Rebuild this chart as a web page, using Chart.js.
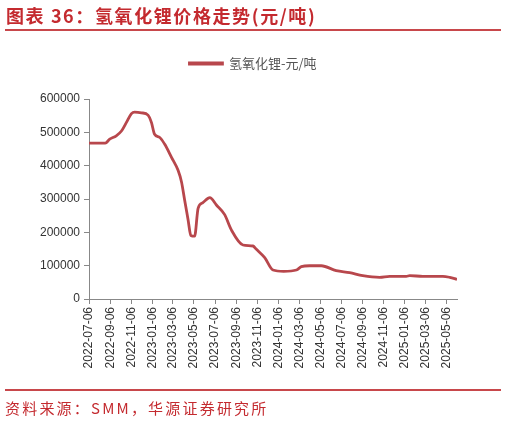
<!DOCTYPE html>
<html><head><meta charset="utf-8">
<script src="https://cdn.jsdelivr.net/npm/chart.js@4/dist/chart.umd.min.js"></script>
<style>
html,body{margin:0;padding:0;background:#fff;width:506px;height:423px;overflow:hidden;}
#title{position:absolute;left:6px;top:2px;font-family:"Noto Sans CJK SC";font-weight:bold;font-size:18px;color:#c42a2f;letter-spacing:1.6px;white-space:nowrap;}
#line1{position:absolute;left:5px;top:29px;width:496px;height:2px;background:#c8474b;}
#line2{position:absolute;left:5px;top:389px;width:496px;height:2px;background:#c8474b;}
#src{position:absolute;left:5px;top:397px;font-family:"Noto Sans CJK SC";font-size:15px;color:#c42a2f;letter-spacing:2.2px;white-space:nowrap;}
#wrap{position:absolute;left:0;top:0;width:506px;height:423px;}
</style></head>
<body>
<div id="wrap"><canvas id="c" width="506" height="423"></canvas></div>
<div id="title">图表 36：氢氧化锂价格走势(元/吨)</div>
<div id="line1"></div>
<div id="line2"></div>
<div id="src">资料来源：SMM，华源证券研究所</div>
<script>
const seriesName = "氢氧化锂-元/吨";
const dates = ["2022-07-06","2022-08-22","2022-09-04","2022-09-23","2022-10-08","2022-10-22","2022-11-06","2022-11-15","2022-12-05","2022-12-24","2023-01-03","2023-01-12","2023-01-27","2023-02-10","2023-03-02","2023-03-21","2023-03-31","2023-04-09","2023-04-19","2023-04-27","2023-05-08","2023-05-18","2023-06-01","2023-06-21","2023-07-10","2023-08-03","2023-08-22","2023-09-25","2023-10-24","2023-11-03","2023-11-27","2023-12-21","2024-01-21","2024-02-27","2024-03-12","2024-04-05","2024-05-09","2024-06-21","2024-07-30","2024-09-06","2024-10-25","2024-11-23","2025-01-10","2025-01-20","2025-02-27","2025-04-26","2025-05-16","2025-06-06"];
const prices = [467500,467500,479500,489600,504000,529000,556000,560600,558600,551700,529000,494000,484500,464700,425000,386000,351000,297000,238000,190600,188500,272000,289000,304000,282000,253000,208000,162000,159000,149000,124000,87000,83000,87000,97000,99700,99700,85000,79000,70000,65000,68000,68000,70000,68000,68000,65000,59000];
const tickLabels = ["2022-07-06","2022-09-06","2022-11-06","2023-01-06","2023-03-06","2023-05-06","2023-07-06","2023-09-06","2023-11-06","2024-01-06","2024-03-06","2024-05-06","2024-07-06","2024-09-06","2024-11-06","2025-01-06","2025-03-06","2025-05-06"];
const yTicks = [0,100000,200000,300000,400000,500000,600000];

const dayOf = s => { const [y,m,d] = s.split("-").map(Number); return (Date.UTC(y,m-1,d) - Date.UTC(2022,6,6)) / 86400000; };
const pts = dates.map((d,i) => ({x: dayOf(d), y: prices[i]}));
const tickDays = tickLabels.map(dayOf);

const legendSpacer = { id: "legendSpacer",
  beforeInit(chart) {
    const orig = chart.legend.fit;
    chart.legend.fit = function () { orig.bind(this)(); this.height += 19; };
  },
  afterLayout(chart) {
    const lg = chart.legend;
    lg.left = 0; lg.right = chart.width; lg.width = chart.width;
    if (lg.adjustHitBoxes) lg.adjustHitBoxes();
  }
};

new Chart(document.getElementById("c"), {
  type: "line",
  data: { datasets: [{ label: seriesName, data: pts, borderColor: "#b8474c", backgroundColor: "#b8474c",
    borderWidth: 2.8, pointRadius: 0, cubicInterpolationMode: "monotone", fill: false }] },
  plugins: [legendSpacer],
  options: {
    responsive: false, animation: false,
    layout: { padding: { top: 47, left: 0, right: 49, bottom: 0 } },
    plugins: {
      legend: { display: true, position: "top",
        labels: { boxWidth: 33, boxHeight: 1, color: "#555", font: { family: "Noto Sans CJK SC", size: 13 }, padding: 10 } },
      tooltip: { enabled: false }
    },
    scales: {
      x: { type: "linear", min: 0, max: dayOf(dates[dates.length-1]),
        afterBuildTicks: s => { s.ticks = tickDays.map(v => ({ value: v })); },
        afterFit: s => { s.height = 124; },
        ticks: { autoSkip: false, minRotation: 90, maxRotation: 90, color: "#333", padding: 3,
          font: { family: "Liberation Sans", size: 12 },
          callback: (v) => { const i = tickDays.indexOf(v); return i >= 0 ? tickLabels[i] : ""; } },
        grid: { drawOnChartArea: false, drawTicks: true, tickLength: 5, color: "#888" },
        border: { color: "#888", width: 1 }
      },
      y: { min: 0, max: 600000,
        afterBuildTicks: s => { s.ticks = yTicks.map(v => ({ value: v })); },
        afterFit: s => { s.width = 89; },
        ticks: { color: "#333", padding: 4, font: { family: "Liberation Sans", size: 12 }, callback: v => String(v) },
        grid: { drawOnChartArea: false, drawTicks: true, tickLength: 5, color: "#888" },
        border: { color: "#888", width: 1 }
      }
    }
  }
});
</script>
</body></html>
